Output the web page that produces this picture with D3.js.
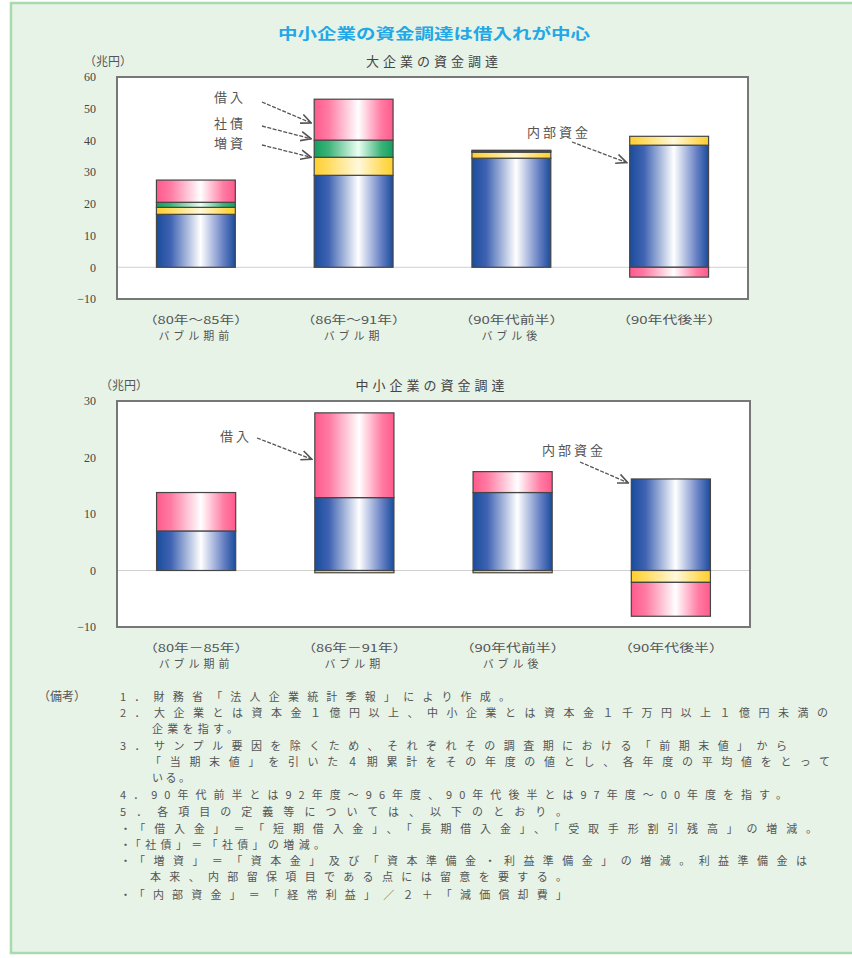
<!DOCTYPE html>
<html><head><meta charset="utf-8">
<script src="https://cdn.jsdelivr.net/npm/d3@7"></script>
<style>
html,body{margin:0;padding:0;background:#fff;}
svg{display:block;}
text{font-family:"Noto Sans CJK JP","Noto Sans CJK SC",sans-serif;}
</style></head>
<body>
<script>
// ---- data ----
const series = ["内部資金", "増資", "社債", "借入"];
const largeCats = ["（80年～85年）", "（86年～91年）", "（90年代前半）", "（90年代後半）"];
const smallCats = ["（80年－85年）", "（86年－91年）", "（90年代前半）", "（90年代後半）"];
const catSub = ["バブル期前", "バブル期", "バブル後", ""];
const largeInternal = [16.7, 29.0, 34.4, 38.5];
const largeEquity   = [2.2, 5.7, 1.9, 2.8];
const largeBonds    = [1.6, 5.4, 0.3, 0];
const largeBorrow   = [7.0, 12.9, 0.3, -3.1];
const smallInternal = [7.0, 12.9, 13.8, 16.2];
const smallEquity   = [0, -0.4, -0.4, -2.1];
const smallBonds    = [0, 0, 0, 0];
const smallBorrow   = [6.8, 15.0, 3.7, -6.0];
const largeTicks = [60, 50, 40, 30, 20, 10, 0, -10];
const smallTicks = [30, 20, 10, 0, -10];
const title = "中小企業の資金調達は借入れが中心";
const notes = [
  "1．財務省「法人企業統計季報」により作成。",
  "2．大企業とは資本金１億円以上、中小企業とは資本金１千万円以上１億円未満の",
  "企業を指す。",
  "3．サンプル要因を除くため、それぞれその調査期における「前期末値」から",
  "「当期末値」を引いた４期累計をその年度の値とし、各年度の平均値をとって",
  "いる。",
  "4．90年代前半とは92年度～96年度、90年代後半とは97年度～00年度を指す。",
  "5．各項目の定義等については、以下のとおり。",
  "・「借入金」＝「短期借入金」、「長期借入金」、「受取手形割引残高」の増減。",
  "・「社債」＝「社債」の増減。",
  "・「増資」＝「資本金」及び「資本準備金・利益準備金」の増減。利益準備金は",
  "本来、内部留保項目である点には留意を要する。",
  "・「内部資金」＝「経常利益」／２＋「減価償却費」"
];
// layout for notes (x start, x end) -- presentation only
const noteX = [[120,510],[120,828],[152,238],[120,787],[150,830],[152,190],[120,787],[120,567],[120,817],[120,325],[120,807],[150,567],[120,567]];

const W = 852, H = 958;
const svg = d3.select("body").append("svg").attr("width", W).attr("height", H);

// gradients
const defs = svg.append("defs");
const colorDefs = {
  "内部資金": ["#1a4c9c", "#3f63b2", "#ffffff", "#6680c4", "#1a4c9c"],
  "増資": ["#ffcf2e", "#ffdc60", "#fff9dc", "#ffdc60", "#ffcf2e"],
  "社債": ["#12a05e", "#3cb378", "#eafff2", "#3cb378", "#12a05e"],
  "借入": ["#ff5a8c", "#ff7ba3", "#ffffff", "#ff7ba3", "#ff5a8c"]
};
series.forEach((s, i) => {
  const g = defs.append("linearGradient").attr("id", "g" + i).attr("x1", 0).attr("x2", 1).attr("y1", 0).attr("y2", 0);
  const c = colorDefs[s];
  [0, 0.18, 0.56, 0.85, 1].forEach((o, k) => g.append("stop").attr("offset", o).attr("stop-color", c[k]));
});
defs.append("marker").attr("id", "arr").attr("viewBox", "0 0 10 10").attr("refX", 9).attr("refY", 5)
  .attr("markerWidth", 9).attr("markerHeight", 9).attr("orient", "auto")
  .append("path").attr("d", "M0,1 L9,5 L0,9").attr("fill", "none").attr("stroke", "#555").attr("stroke-width", 1.4);

// background panel
svg.append("rect").attr("x", 11).attr("y", 3).attr("width", 860).attr("height", 950)
  .attr("fill", "#e7f3e7").attr("stroke", "#a9d9ae").attr("stroke-width", 2.5);

svg.append("text").attr("x", 434).attr("y", 39).attr("text-anchor", "middle")
  .attr("font-size", 15).attr("font-weight", "bold").attr("fill", "#22a8e6")
  .attr("textLength", 312).attr("lengthAdjust", "spacingAndGlyphs").text(title);

function chart(cfg) {
  const x = d3.scaleBand().domain(cfg.cats).range([cfg.x0, cfg.x1]).paddingInner(0.5).paddingOuter(0.25);
  const y = d3.scaleLinear().domain(cfg.domain).range([cfg.y1, cfg.y0]);
  const g = svg.append("g");
  // plot area
  g.append("rect").attr("x", cfg.x0).attr("y", cfg.y0).attr("width", cfg.x1 - cfg.x0).attr("height", cfg.y1 - cfg.y0)
    .attr("fill", "#fff").attr("stroke", "#777").attr("stroke-width", 2);
  g.append("line").attr("x1", cfg.x0 + 1).attr("x2", cfg.x1 - 1).attr("y1", y(0)).attr("y2", y(0))
    .attr("stroke", "#d0d0d0").attr("stroke-width", 1);
  // y axis ticks
  const ax = g.append("g").attr("transform", `translate(${cfg.x0},0)`)
    .call(d3.axisLeft(y).tickValues(cfg.ticks).tickSize(0).tickPadding(21).tickFormat(d3.format("d")));
  ax.select(".domain").remove();
  ax.selectAll("text").attr("font-size", 12).attr("fill", "#444")
    .style("font-family", "'Liberation Serif','DejaVu Serif',serif");
  // stack
  const rows = cfg.cats.map((c, i) => {
    const r = { cat: c };
    series.forEach((s, k) => r[s] = cfg.values[k][i]);
    return r;
  });
  const stacked = d3.stack().keys(series).offset(d3.stackOffsetDiverging)(rows);
  stacked.forEach((layer, k) => {
    g.selectAll(null).data(layer.filter(d => d[1] !== d[0])).join("rect")
      .attr("x", d => x(d.data.cat)).attr("width", x.bandwidth())
      .attr("y", d => y(Math.max(d[0], d[1]))).attr("height", d => Math.abs(y(d[0]) - y(d[1])))
      .attr("fill", `url(#g${k})`).attr("stroke", "#454545").attr("stroke-width", 1.2);
  });
  // category labels
  cfg.cats.forEach((c, i) => {
    const cx = x(c) + x.bandwidth() / 2;
    g.append("text").attr("x", cx).attr("y", cfg.y1 + 25).attr("text-anchor", "middle")
      .attr("font-size", 11).attr("fill", "#555").attr("textLength", 106).attr("lengthAdjust", "spacingAndGlyphs").text(c);
    if (catSub[i]) g.append("text").attr("x", cx).attr("y", cfg.y1 + 41).attr("text-anchor", "middle")
      .attr("font-size", 11).attr("fill", "#555").attr("letter-spacing", 4).text(catSub[i]);
  });
  // headers
  g.append("text").attr("x", cfg.unitX).attr("y", cfg.y0 - 11).attr("font-size", 12).attr("fill", "#555").text("（兆円）");
  g.append("text").attr("x", cfg.subX).attr("y", cfg.y0 - 11).attr("text-anchor", "middle").attr("font-size", 13)
    .attr("fill", "#444").attr("letter-spacing", 4).text(cfg.sub);
  // annotations
  cfg.notes.forEach(n => {
    const tx = x(cfg.cats[n.bar]);
    const ty = y(n.v);
    g.append("text").attr("x", n.lx).attr("y", n.ly + 5).attr("font-size", 13).attr("fill", "#555")
      .attr("letter-spacing", 3).text(n.t);
    g.append("line").attr("x1", n.ax).attr("y1", n.ay).attr("x2", tx - 3).attr("y2", ty)
      .attr("stroke", "#555").attr("stroke-width", 1.3).attr("stroke-dasharray", "4,1.5").attr("marker-end", "url(#arr)");
  });
  return { x, y };
}

chart({
  cats: largeCats, x0: 117, x1: 748, y0: 77, y1: 299, domain: [-10, 60], ticks: largeTicks,
  values: [largeInternal, largeEquity, largeBonds, largeBorrow],
  unitX: 84, subX: 434, sub: "大企業の資金調達",
  notes: [
    { t: "借入", lx: 214, ly: 97, ax: 262, ay: 102, bar: 1, v: 45.5 },
    { t: "社債", lx: 214, ly: 123, ax: 262, ay: 126, bar: 1, v: 40.5 },
    { t: "増資", lx: 214, ly: 143, ax: 262, ay: 145, bar: 1, v: 34.7 },
    { t: "内部資金", lx: 527, ly: 132, ax: 572, ay: 142, bar: 3, v: 33 }
  ]
});
chart({
  cats: smallCats, x0: 117, x1: 750, y0: 401, y1: 627, domain: [-10, 30], ticks: smallTicks,
  values: [smallInternal, smallEquity, smallBonds, smallBorrow],
  unitX: 100, subX: 432, sub: "中小企業の資金調達",
  notes: [
    { t: "借入", lx: 220, ly: 436, ax: 257, ay: 438, bar: 1, v: 19.7 },
    { t: "内部資金", lx: 542, ly: 450, ax: 580, ay: 462, bar: 3, v: 15.5 }
  ]
});

// notes
svg.append("text").attr("x", 38).attr("y", 701).attr("font-size", 12).attr("fill", "#555").text("（備考）");
const noteY = [697, 713, 729, 746, 762, 778, 795, 812, 829, 845, 861, 877, 895];
notes.forEach((t, i) => {
  svg.append("text").attr("x", noteX[i][0]).attr("y", noteY[i] + 4).attr("font-size", 11).attr("fill", "#555")
    .attr("textLength", noteX[i][1] - noteX[i][0]).attr("lengthAdjust", "spacing").text(t);
});
</script>
</body></html>
